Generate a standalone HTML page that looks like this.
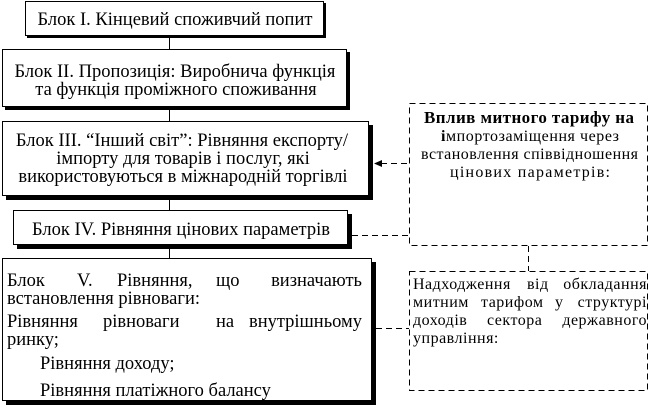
<!DOCTYPE html>
<html>
<head>
<meta charset="utf-8">
<style>
  html, body { margin: 0; padding: 0; background: #fff; }
  svg { display: block; }
  text { font-family: "Liberation Serif", "DejaVu Serif", serif; fill: #000; }
  .m { font-size: 18.5px; }
  .d1 { font-size: 16px; }
  .d2 { font-size: 16px; letter-spacing: 0.5px; }
</style>
</head>
<body>
<svg width="650" height="406" viewBox="0 0 650 406" xmlns="http://www.w3.org/2000/svg">
  <!-- vertical connectors -->
  <g stroke="#000" stroke-width="1">
    <line x1="169.5" y1="36" x2="169.5" y2="49"/>
    <line x1="169.5" y1="107" x2="169.5" y2="121"/>
    <line x1="169.5" y1="196" x2="169.5" y2="210"/>
    <line x1="169.5" y1="245" x2="169.5" y2="258"/>
  </g>

  <!-- Box I -->
  <rect x="27" y="3" width="299" height="35" fill="#000"/>
  <rect x="25.5" y="1.5" width="298" height="34" fill="#fff" stroke="#000" stroke-width="1"/>
  <!-- Box II -->
  <rect x="5" y="52" width="345" height="58" fill="#000"/>
  <rect x="2.5" y="49.5" width="344" height="57" fill="#fff" stroke="#000" stroke-width="1"/>
  <!-- Box III -->
  <rect x="6" y="125" width="367" height="75" fill="#000"/>
  <rect x="2.5" y="121.5" width="366" height="74" fill="#fff" stroke="#000" stroke-width="1"/>
  <!-- Box IV -->
  <rect x="17" y="214" width="335" height="35" fill="#000"/>
  <rect x="13.5" y="210.5" width="334" height="34" fill="#fff" stroke="#000" stroke-width="1"/>
  <!-- Box V -->
  <rect x="6" y="262" width="370" height="143" fill="#000"/>
  <rect x="2.5" y="258.5" width="369" height="142" fill="#fff" stroke="#000" stroke-width="1"/>

  <!-- dashed boxes & connectors -->
  <g stroke="#000" stroke-width="1" fill="none" stroke-dasharray="6 4">
    <rect x="409.5" y="103.5" width="238" height="142"/>
    <rect x="409.5" y="271.5" width="238" height="119"/>
    <line x1="381" y1="163.5" x2="409" y2="163.5"/>
    <line x1="352" y1="235.5" x2="409" y2="235.5"/>
    <line x1="528.5" y1="246" x2="528.5" y2="271"/>
    <line x1="376" y1="328.5" x2="409" y2="328.5"/>
  </g>
  <polygon points="374,163.5 382,160 382,167" fill="#000"/>

  <!-- Box texts (centered) -->
  <text class="m" x="175" y="25" text-anchor="middle">Блок І. Кінцевий споживчий попит</text>

  <text class="m" x="175" y="77" text-anchor="middle">Блок ІІ. Пропозиція: Виробнича функція</text>
  <text class="m" x="176" y="95" text-anchor="middle">та функція проміжного споживання</text>

  <text class="m" x="182" y="146" text-anchor="middle">Блок ІІІ. “Інший світ”: Рівняння експорту/</text>
  <text class="m" x="183" y="164" text-anchor="middle">імпорту для товарів і послуг, які</text>
  <text class="m" x="183" y="182" text-anchor="middle">використовуються в міжнародній торгівлі</text>

  <text class="m" x="181" y="235" text-anchor="middle">Блок IV. Рівняння цінових параметрів</text>

  <!-- Box V -->
  <text class="m" x="7" y="286">Блок</text>
  <text class="m" x="77" y="286">V.</text>
  <text class="m" x="117" y="286">Рівняння,</text>
  <text class="m" x="216" y="286">що</text>
  <text class="m" x="362" y="286" text-anchor="end">визначають</text>

  <text class="m" x="7" y="304">встановлення рівноваги:</text>

  <text class="m" x="7" y="327">Рівняння</text>
  <text class="m" x="103" y="327">рівноваги</text>
  <text class="m" x="216" y="327">на</text>
  <text class="m" x="362" y="327" text-anchor="end">внутрішньому</text>

  <text class="m" x="7" y="345">ринку;</text>
  <text class="m" x="40" y="369">Рівняння доходу;</text>
  <text class="m" x="40" y="396">Рівняння платіжного балансу</text>

  <!-- Dashed box 1 text -->
  <text x="424" y="123" font-size="17" textLength="210" lengthAdjust="spacing" font-weight="bold">Вплив митного тарифу на</text>
  <text class="d1" x="441" y="141" textLength="178" lengthAdjust="spacing"><tspan font-weight="bold">і</tspan>мпортозаміщення через</text>
  <text class="d1" x="421" y="159" textLength="217" lengthAdjust="spacing">встановлення співвідношення</text>
  <text class="d1" x="450" y="177" textLength="160" lengthAdjust="spacing">цінових параметрів:</text>

  <!-- Dashed box 2 text -->
  <text class="d2" x="413" y="289">Надходження</text>
  <text class="d2" x="527" y="289">від</text>
  <text class="d2" x="647" y="289" text-anchor="end">обкладання</text>

  <text class="d2" x="413" y="307">митним</text>
  <text class="d2" x="481" y="307">тарифом</text>
  <text class="d2" x="555" y="307">у</text>
  <text class="d2" x="647" y="307" text-anchor="end">структурі</text>

  <text class="d2" x="413" y="325">доходів</text>
  <text class="d2" x="487" y="325">сектора</text>
  <text class="d2" x="647" y="325" text-anchor="end">державного</text>

  <text class="d2" x="413" y="343">управління:</text>
</svg>
</body>
</html>
